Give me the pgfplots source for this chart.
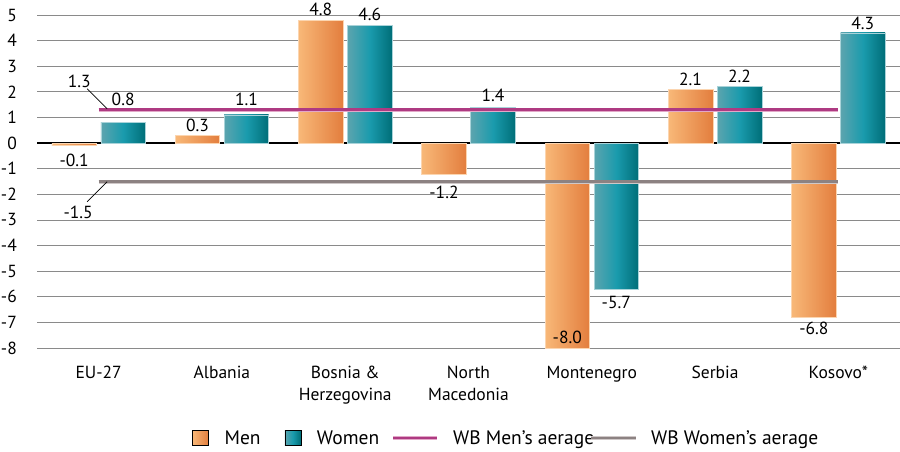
\documentclass[border=0pt]{standalone}
\usepackage{fontspec}
\setmainfont{PT Sans}
\usepackage{pgfplots}
\pgfplotsset{compat=1.18}

\definecolor{menL}{HTML}{F8B878}
\definecolor{menR}{HTML}{E37E3E}
\definecolor{menE}{HTML}{FBD5B0}
\definecolor{wL}{HTML}{5CA4AE}
\definecolor{wM}{HTML}{1A9BAD}
\definecolor{wR}{HTML}{006E78}
\definecolor{wE}{HTML}{A9D3D9}
\definecolor{wbm}{HTML}{AE3A82}
\definecolor{wbmL}{HTML}{E2A8C8}
\definecolor{wbw}{HTML}{8C8282}
\definecolor{wbwL}{HTML}{CFC8C8}
\definecolor{gridc}{HTML}{8A8A8A}

\tikzset{valfont/.style={font=\fontsize{17.5}{21}\selectfont}}
\pgfplotsset{
  barbase/.style={ybar, bar width=44.5pt, line width=0.6pt, forget plot,
    point meta=y,
    nodes near coords={\pgfmathprintnumber[fixed,fixed zerofill,precision=1]{\pgfplotspointmeta}},
    nodes near coords align={anchor=center}},
  menbar/.style={barbase, bar shift=-24.5pt, draw=menE, left color=menL, right color=menR,
    every node near coord/.append style={anchor=center, xshift=-24.5pt, yshift=#1, text=black, valfont}},
  wbar/.style={barbase, bar shift=24.5pt, draw=wE, left color=wL, right color=wR, middle color=wM,
    every node near coord/.append style={anchor=center, xshift=24.5pt, yshift=#1, text=black, valfont}},
}

\begin{document}
\begin{tikzpicture}
\begin{axis}[
  at={(0pt,0pt)}, anchor=south west,
  scale only axis, width=863pt, height=333pt,
  xmin=-0.5, xmax=6.5, ymin=-8, ymax=5,
  ytick={-8,-7,...,5},
  xtick={0,...,6},
  xticklabels={EU-27, Albania, {Bosnia \&\\Herzegovina}, {North\\Macedonia}, Montenegro, Serbia, Kosovo*},
  axis line style={draw=none},
  tick style={draw=none},
  ymajorgrids, grid style={color=gridc, line width=0.8pt},
  extra y ticks={0}, extra y tick labels={},
  extra y tick style={grid style={black, line width=1.6pt}},
  font=\fontsize{17.5}{21.5}\selectfont,
  /pgf/number format/assume math mode=true,
  yticklabel style={anchor=east, inner sep=0pt, xshift=-20pt},
  xticklabel style={align=center, anchor=north, inner sep=0pt, yshift=-18pt},
  legend columns=4,
  legend style={at={(0.1796,-0.2703)}, anchor=west, draw=none, fill=none, inner sep=0pt,
    font=\fontsize{19.5}{23}\selectfont,
    nodes={inner sep=0pt},
    /tikz/column 1/.style={column sep=16pt},
    /tikz/column 2/.style={column sep=24pt},
    /tikz/column 3/.style={column sep=16pt},
    /tikz/column 4/.style={column sep=12pt},
    /tikz/column 5/.style={column sep=14pt},
    /tikz/column 6/.style={column sep=-5pt},
    /tikz/column 7/.style={column sep=13pt}},
]
\addlegendimage{legend image code/.code={\fill[left color=menL, right color=menR] (0pt,-7.5pt) rectangle (16pt,7.5pt);}}
\addlegendentry{Men}
\addlegendimage{legend image code/.code={\fill[left color=wL, right color=wR, middle color=wM] (0pt,-7.5pt) rectangle (16pt,7.5pt);}}
\addlegendentry{Women}

% Men
\addplot[menbar=-15pt] coordinates {(0,-0.1)};
\addplot[menbar=10pt] coordinates {(1,0.3)};
\addplot[menbar=11pt] coordinates {(2,4.8)};
\addplot[menbar=-19pt] coordinates {(3,-1.2)};
\addplot[menbar=11pt] coordinates {(4,-8.0)};
\addplot[menbar=9.5pt] coordinates {(5,2.1)};
\addplot[menbar=-11.5pt] coordinates {(6,-6.8)};
% Women
\addplot[wbar=23pt] coordinates {(0,0.8)};
\addplot[wbar=16pt] coordinates {(1,1.1)};
\addplot[wbar=10.5pt] coordinates {(2,4.6)};
\addplot[wbar=12pt] coordinates {(3,1.4)};
\addplot[wbar=-13pt] coordinates {(4,-5.7)};
\addplot[wbar=10pt] coordinates {(5,2.2)};
\addplot[wbar=10pt] coordinates {(6,4.3)};

\addplot[wbm, line width=2.6pt, preaction={draw=wbmL, line width=4pt},
  legend image code/.code={\draw[wbmL, line width=3.5pt] (0pt,0pt) -- (44pt,0pt); \draw[wbm, line width=2.2pt] (0pt,0pt) -- (44pt,0pt);}
] coordinates {(0,1.3) (6,1.3)};
\addlegendentry{WB Men’s aerage}
\addplot[wbw, line width=2.6pt, preaction={draw=wbwL, line width=4pt},
  legend image code/.code={\draw[wbwL, line width=3.5pt] (0pt,0pt) -- (45pt,0pt); \draw[wbw, line width=2.2pt] (0pt,0pt) -- (45pt,0pt);}
] coordinates {(0,-1.5) (6,-1.5)};
\addlegendentry{WB Women’s aerage}
\draw[black, line width=0.8pt] (axis cs:-0.093,2.12) -- (axis cs:0.069,1.34);
\node[valfont, inner sep=0pt] at (axis cs:-0.158,2.39) {1.3};
\draw[black, line width=0.8pt] (axis cs:-0.093,-2.29) -- (axis cs:0.069,-1.51);
\node[valfont, inner sep=0pt] at (axis cs:-0.166,-2.72) {-1.5};
\end{axis}
\pgfresetboundingbox
\path (-37pt,-103pt) rectangle (863pt,348pt);
\end{tikzpicture}
\end{document}
